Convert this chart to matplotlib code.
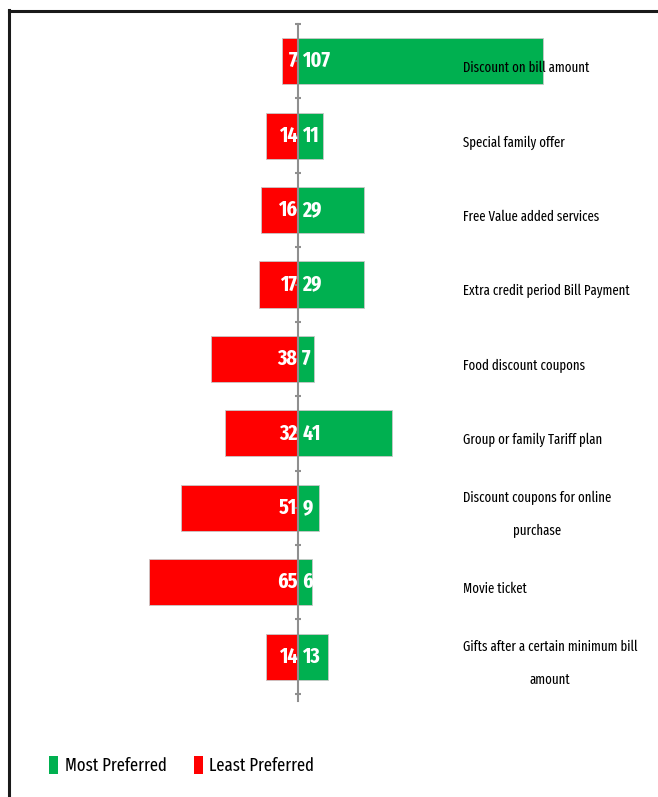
import matplotlib
matplotlib.use('Agg')
import matplotlib.pyplot as plt
from matplotlib.lines import Line2D
from matplotlib.patches import Patch
import numpy as np

# Calibri-like condensed look; Carlito as a fallback
plt.rcParams['font.family'] = ['Fira Sans Extra Condensed', 'Carlito', 'DejaVu Sans']

categories = ["Discount on bill amount", "Special family offer",
              "Free Value added services", "Extra credit period Bill Payment",
              "Food discount coupons", "Group or family Tariff plan",
              "Discount coupons for online\npurchase", "Movie ticket",
              "Gifts after a certain minimum bill\namount"]
most_preferred = [107, 11, 29, 29, 7, 41, 9, 6, 13]
least_preferred = [7, 14, 16, 17, 38, 32, 51, 65, 14]

GREEN = '#00B050'
RED = '#FF0000'
AXIS_GREY = '#8f8f8f'

fig = plt.figure(figsize=(6.58, 7.97), dpi=100)
ax = fig.add_axes([0.2098, 0.120, 0.764, 0.8499])

y = np.arange(len(categories))
ax.barh(y, most_preferred, height=0.62, color=GREEN, edgecolor='#c8c8c8', linewidth=0.6)
ax.barh(y, [-v for v in least_preferred], height=0.62, color=RED, edgecolor='#c8c8c8', linewidth=0.6)

# value labels near the centre line, category names on the right
for i in range(len(categories)):
    ax.annotate(str(least_preferred[i]), (0, y[i]), xytext=(-0.5, 0), textcoords='offset points',
                ha='right', va='center', color='white', fontsize=15.5, fontweight='bold')
    ax.annotate(str(most_preferred[i]), (0, y[i]), xytext=(3, 0), textcoords='offset points',
                ha='left', va='center', color='white', fontsize=15.5, fontweight='bold')
    ax.text(72, y[i] + 0.09, categories[i], ha='left', va='center', multialignment='center',
            fontsize=10, color='black', linespacing=2.6)

ax.set_xlim(-70, 150)
ax.set_ylim(8.6, -0.5)

for s in ['top', 'right', 'bottom']:
    ax.spines[s].set_visible(False)
ax.spines['left'].set_position(('data', 0))
ax.spines['left'].set_color(AXIS_GREY)
ax.spines['left'].set_linewidth(1.5)
ax.spines['left'].set_bounds(-0.5, 8.6)

ax.set_xticks([])
ax.set_yticks(np.arange(-0.5, 9, 1.0))
ax.set_yticks(y, minor=True)
ax.tick_params(axis='y', which='major', direction='inout', length=5, width=1.5,
               color=AXIS_GREY, labelleft=False)
ax.tick_params(axis='y', which='minor', direction='out', length=2.5, width=1.2,
               color=AXIS_GREY, labelleft=False)
ax.patch.set_visible(False)

# legend
handles = [Patch(facecolor=GREEN, edgecolor='none', label='Most Preferred'),
           Patch(facecolor=RED, edgecolor='none', label='Least Preferred')]
fig.legend(handles=handles, loc='center left', bbox_to_anchor=(0.075, 0.040), ncol=2,
           frameon=False, fontsize=13, handlelength=0.5, handleheight=1.2,
           handletextpad=0.35, columnspacing=1.5, borderpad=0, borderaxespad=0)

# outer frame (left and top only, as in the cropped screenshot)
fig.add_artist(Line2D([8.5 / 658, 8.5 / 658], [0, 1 - 9.5 / 797], transform=fig.transFigure,
                      color='#1a1a1a', linewidth=2.2))
fig.add_artist(Line2D([8.5 / 658, 1], [1 - 10.5 / 797, 1 - 10.5 / 797], transform=fig.transFigure,
                      color='#1a1a1a', linewidth=2.2))

plt.savefig('out.png', dpi=100)
